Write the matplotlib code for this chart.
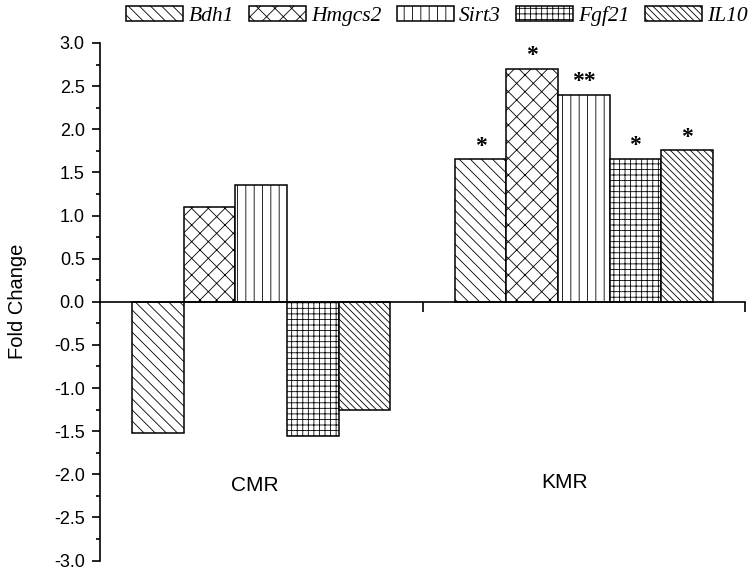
import numpy as np
import matplotlib
matplotlib.use('Agg')
from matplotlib import pyplot as plt
from matplotlib.ticker import MultipleLocator

groups = ['CMR', 'KMR']
genes = ['Bdh1', 'Hmgcs2', 'Sirt3', 'Fgf21', 'IL10']
cmr = [-1.52, 1.10, 1.35, -1.55, -1.26]
kmr = [1.65, 2.70, 2.40, 1.66, 1.76]
kmr_marks = ['*', '*', '**', '*', '*']
hatches = ['\\' * 3, 'xx', '||', '+++', '\\' * 5]

plt.rcParams['font.family'] = ['Liberation Sans', 'DejaVu Sans']
plt.rcParams['hatch.linewidth'] = 0.6
plt.rcParams['hatch.color'] = '#555555'

fig = plt.figure(figsize=(7.55, 5.7), dpi=100)
ax = fig.add_axes([0.1325, 0.0165, 0.8543, 0.9081])

centers = np.arange(1, len(groups) + 1)
width = 0.16
values = np.array([cmr, kmr])
handles = []
for i, g in enumerate(genes):
    xs = centers + (i - 2) * width
    b = ax.bar(xs, values[:, i], width, color='white', edgecolor='black',
               linewidth=1.1, hatch=hatches[i], label=g)
    handles.append(b)
    ax.text(xs[1], values[1, i] + 0.15, kmr_marks[i], ha='center', va='center',
            fontsize=17, family='Liberation Serif', fontweight='bold')

# group names inside the plot
ax.text(0.98, -2.13, groups[0], ha='center', va='center', fontsize=15)
ax.text(1.94, -2.10, groups[1], ha='center', va='center', fontsize=15)

ax.set_xlim(0.5, 2.5)
ax.set_ylim(-3, 3)
ax.yaxis.set_major_locator(MultipleLocator(0.5))
ax.yaxis.set_minor_locator(MultipleLocator(0.25))
ax.set_yticklabels(['%.1f' % v for v in ax.get_yticks()])
ax.set_xticks([1.5, 2.5])
ax.set_xticklabels([])
ax.tick_params(axis='y', which='major', length=6, width=1.2, labelsize=13, pad=5)
ax.tick_params(axis='y', which='minor', length=3, width=1.2)
ax.tick_params(axis='x', which='major', length=7.5, width=1.2, direction='out')

ax.spines['top'].set_visible(False)
ax.spines['right'].set_visible(False)
ax.spines['bottom'].set_position(('data', 0))
ax.spines['left'].set_linewidth(1.2)
ax.spines['bottom'].set_linewidth(1.2)

ax.set_ylabel('Fold Change', fontsize=14.5)
ax.yaxis.set_label_coords(-0.114, 0.5)

fig.legend(handles=handles, labels=genes, loc='upper center', ncol=5,
           bbox_to_anchor=(437 / 755, 1.016), frameon=False,
           prop={'family': 'Liberation Serif', 'style': 'italic', 'size': 15.5},
           handlelength=2.65, handleheight=0.7, handletextpad=0.25,
           columnspacing=0.7, borderpad=0.2)

fig.savefig('out.png', dpi=100)
